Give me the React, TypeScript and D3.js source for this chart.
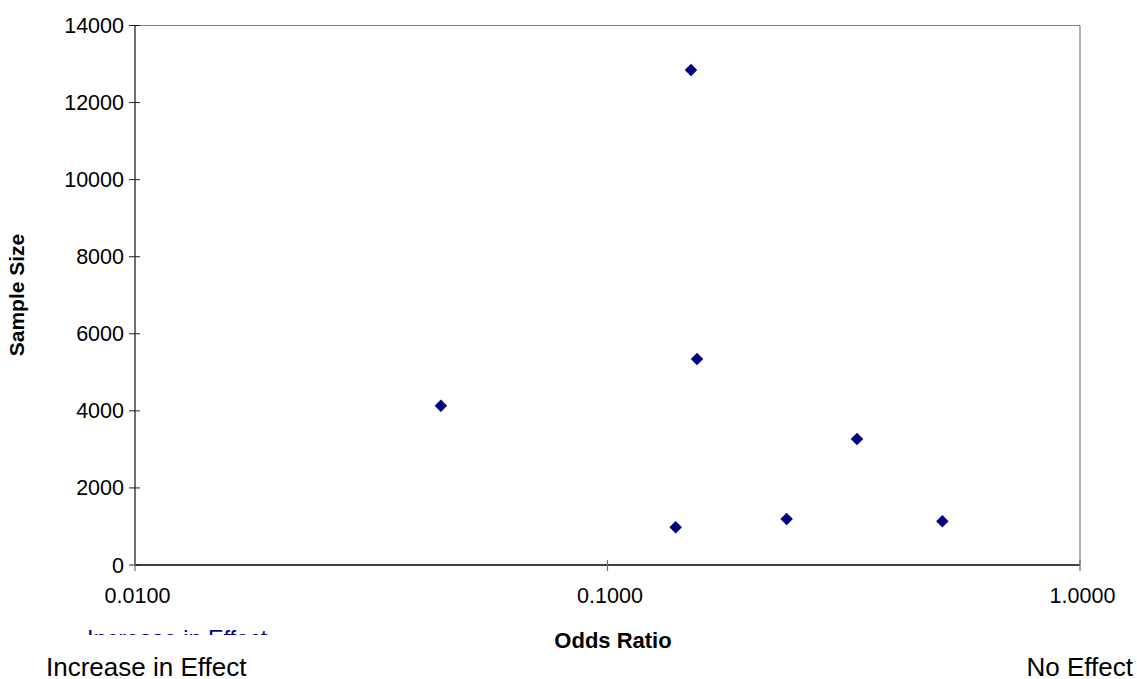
import React from "react";
import * as d3 from "d3";

const oddsRatios = [0.1502, 0.1547, 0.0444, 0.1394, 0.2394, 0.3373, 0.5113];
const sampleSizes = [12845, 5346, 4134, 978, 1194, 3270, 1134];
const xTicks = [0.01, 0.1, 1];
const yTicks = [0, 2000, 4000, 6000, 8000, 10000, 12000, 14000];

const W = 1137;
const H = 679;
const left = 135;
const right = 1080;
const top = 25.5;
const bottom = 565;
const FONT = "'Liberation Sans', Arial, sans-serif";

export default function App() {
  const x = d3.scaleLog().domain([0.01, 1]).range([left, right]);
  const y = d3.scaleLinear().domain([0, 14000]).range([bottom, top]);
  const diamond = d3.symbol().type(d3.symbolSquare).size(78)();

  return (
    <svg
      width={W}
      height={H}
      style={{ position: "absolute", left: 0, top: 0, background: "#fff" }}
      fontFamily={FONT}
    >
      <defs>
        <clipPath id="blueclip">
          <rect x={0} y={600} width={400} height={35} />
        </clipPath>
      </defs>
      {/* plot frame */}
      <line x1={left} x2={right} y1={top} y2={top} stroke="#808080" strokeWidth={1.2} />
      <line x1={right} x2={right} y1={top} y2={bottom} stroke="#808080" strokeWidth={1.2} />
      <line x1={left} x2={left} y1={top} y2={bottom} stroke="#707070" strokeWidth={2} />
      <line x1={left} x2={right} y1={bottom} y2={bottom} stroke="#000" strokeWidth={1.5} />

      {/* y ticks */}
      {yTicks.map((t) => (
        <g key={"y" + t}>
          <line x1={left - 6} x2={left + 5} y1={y(t)} y2={y(t)} stroke="#202020" strokeWidth={1} />
          <text x={124} y={y(t) + 7.5} textAnchor="end" fontSize={21.5} fill="#000">
            {t}
          </text>
        </g>
      ))}

      {/* x ticks */}
      {xTicks.map((t) => (
        <g key={"x" + t}>
          <line x1={x(t)} x2={x(t)} y1={bottom - 5} y2={bottom + 6} stroke="#707070" strokeWidth={1.2} />
          <text x={x(t) + 2.5} y={603} textAnchor="middle" fontSize={21.5} fill="#000">
            {t.toFixed(4)}
          </text>
        </g>
      ))}

      {/* points */}
      {oddsRatios.map((o, i) => (
        <path
          key={"p" + i}
          d={diamond as string}
          transform={`translate(${x(o)},${y(sampleSizes[i])}) rotate(45)`}
          fill="#000080"
        />
      ))}

      {/* axis titles */}
      <text
        transform={`translate(24,295) rotate(-90)`}
        textAnchor="middle"
        fontSize={21}
        fontWeight="bold"
        fill="#000"
      >
        Sample Size
      </text>
      <text x={613} y={648} textAnchor="middle" fontSize={22} fontWeight="bold" fill="#000">
        Odds Ratio
      </text>

      {/* clipped blue label */}
      <g clipPath="url(#blueclip)">
        <text x={87} y={646.5} fontSize={23.4} fill="#000080">
          Increase in Effect
        </text>
      </g>

      <text x={46} y={676} fontSize={26} fill="#000">
        Increase in Effect
      </text>
      <text x={1133} y={676} textAnchor="end" fontSize={26} fill="#000">
        No Effect
      </text>
    </svg>
  );
}
